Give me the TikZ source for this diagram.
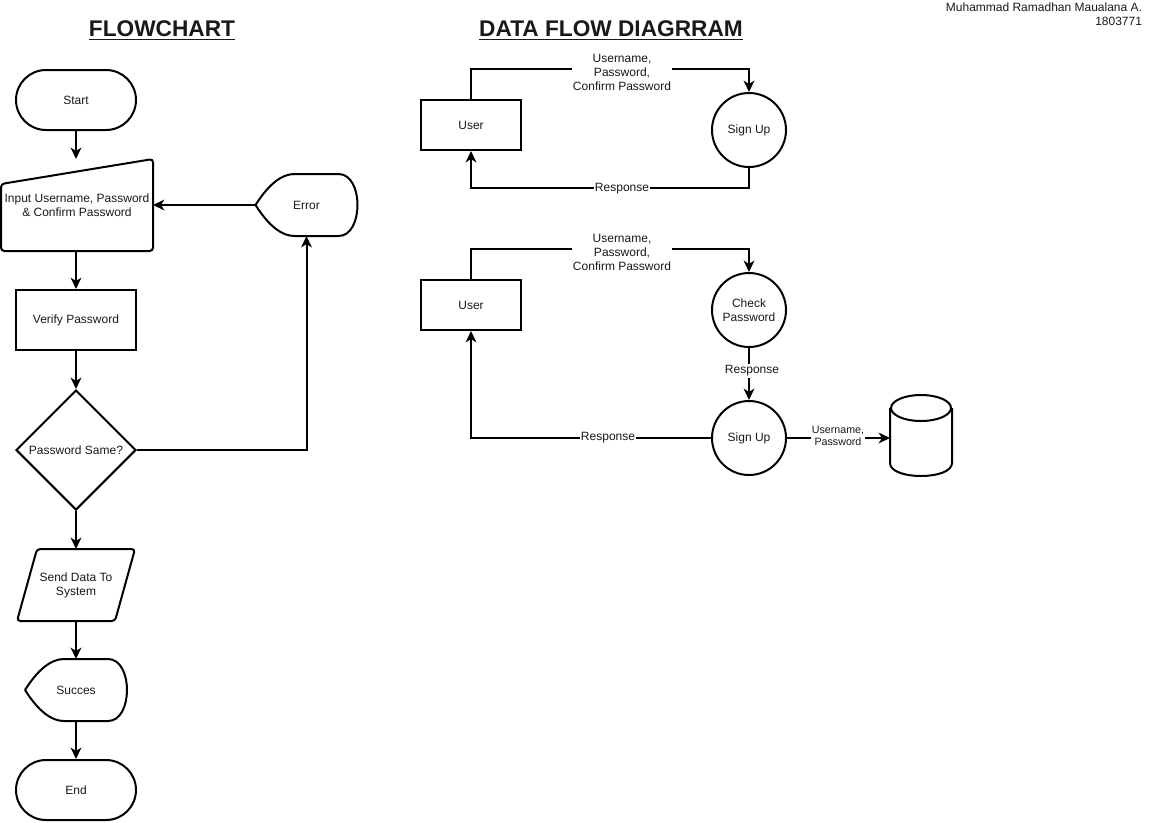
\documentclass[tikz,border=0pt]{standalone}
\usepackage{fontspec}
\setmainfont{Liberation Sans}
\usetikzlibrary{shapes.geometric,arrows.meta}
\newcommand{\thickul}[1]{\setbox0\hbox{#1}\rlap{\rule[-3pt]{\wd0}{1.4pt}}\box0}
\tikzset{
  base/.style={font=\fontsize{9}{10.5}\selectfont, align=center, inner sep=0pt, text=black!90},
  term/.style={base, draw, rounded corners=22.5pt, minimum width=90pt, minimum height=45pt},
  proc/.style={base, draw, minimum width=90pt, minimum height=45pt},
  userbox/.style={base, draw, minimum width=75pt, minimum height=37.5pt},
  circ/.style={base, draw, circle, minimum size=55.5pt},
  dia/.style={base, draw, diamond, minimum width=90pt, minimum height=90pt},
  ghost/.style={base},
  lbl/.style={base, fill=white, inner sep=1pt},
  smalllbl/.style={lbl, font=\fontsize{8}{9}\selectfont},
  arr/.style={-{Stealth[length=8.5pt,width=8pt,inset=2.5pt]}},
  title/.style={font=\bfseries\fontsize{17}{20}\selectfont, inner sep=0pt, text=black!90}
}
\newcommand{\displayshape}[1]{%
  \draw (#1.west) .. controls ([xshift=10pt,yshift=-7.5pt]#1.north west) and ([xshift=19.75pt]#1.north west) .. ([xshift=29.25pt]#1.north west)
    -- ([xshift=-14.25pt]#1.north east)
    .. controls ([xshift=4.75pt]#1.north east) and ([xshift=4.75pt]#1.south east) .. ([xshift=-14.25pt]#1.south east)
    -- ([xshift=29.25pt]#1.south west)
    .. controls ([xshift=19.75pt]#1.south west) and ([xshift=10pt,yshift=7.5pt]#1.south west) .. (#1.west);}
\begin{document}
\begin{tikzpicture}[x=0.75pt,y=-0.75pt,line width=1.5pt]
\useasboundingbox (0,0) rectangle (1151,822);

% titles
\node[title] (t1) at (162,30.5) {\thickul{FLOWCHART}};
\node[title] (t2) at (611,30.5) {\thickul{DATA FLOW DIAGRRAM}};
\node[base, anchor=north east, align=right] (auth) at (1143,2) {Muhammad Ramadhan Maualana A.\\1803771};

% flowchart
\node[term] (start) at (76,100) {Start};
\node[ghost, minimum width=112.5pt, minimum height=67.5pt] (inp) at (77,205) {Input Username, Password\\\& Confirm Password};
\draw[rounded corners=2.5pt] (inp.south west) -- ([yshift=-18.75pt]inp.north west) -- (inp.north east) -- (inp.south east) -- cycle;
\node[proc] (ver) at (76,320) {Verify Password};
\node[dia] (dec) at (76,450) {Password Same?};
\node[ghost, minimum width=87pt, minimum height=52.5pt] (send) at (76,585) {Send Data To\\System};
\draw[rounded corners=2.5pt] ([xshift=15pt]send.north west) -- (send.north east) -- ([xshift=-15pt]send.south east) -- (send.south west) -- cycle;
\node[ghost, minimum width=75pt, minimum height=45pt] (suc) at (76,690) {Succes};
\displayshape{suc}
\node[term] (end) at (76,790) {End};
\node[ghost, minimum width=75pt, minimum height=45pt] (err) at (306.5,205) {Error};
\displayshape{err}

\draw[arr] (start.south) -- (start.south |- inp.north);
\draw[arr] (ver.north |- inp.south) -- (ver.north);
\draw[arr] (ver) -- (dec);
\draw[arr] (dec) -- (send);
\draw[arr] (send) -- (suc);
\draw[arr] (suc) -- (end);
\draw[arr] (dec.east) -| (err.south);
\draw[arr] (err.west) -- (inp.east);

% DFD 1
\node[userbox] (u1) at (471,125) {User};
\node[circ] (su1) at (749,130) {Sign Up};
\draw[arr] (u1.north) -- ++(0,-30) -| (su1.north);
\draw[arr] (su1.south) -- ++(0,20) -| (u1.south);
\node[lbl] (l1) at (622,72) {Username,\\Password,\\Confirm Password};
\node[lbl] (l2) at (622,189) {Response};

% DFD 2
\node[userbox] (u2) at (471,305) {User};
\node[circ] (cp) at (749,310) {Check\\Password};
\node[circ] (su2) at (749,438) {Sign Up};
\node[ghost, minimum width=45pt, minimum height=59.25pt] (db) at (921,435.5) {};
\draw ([yshift=-9.75pt]db.north) ellipse[x radius=22.5pt, y radius=9.75pt];
\draw ([yshift=-9.75pt]db.north west) -- ([yshift=9.75pt]db.south west)
  .. controls ([yshift=-3.25pt]db.south west) and ([yshift=-3.25pt]db.south east) .. ([yshift=9.75pt]db.south east)
  -- ([yshift=-9.75pt]db.north east);
\draw[arr] (u2.north) -- ++(0,-30) -| (cp.north);
\draw[arr] (cp) -- (su2);
\draw[arr] (su2.west) -| (u2.south);
\draw[arr] (su2.east) -- (su2.east -| db.west);
\node[lbl] (l3) at (622,252) {Username,\\Password,\\Confirm Password};
\node[lbl] (l4) at (752,371) {Response};
\node[lbl] (l5) at (608,438) {Response};
\node[smalllbl] (l6) at (838,436) {Username,\\Password};
\end{tikzpicture}
\end{document}
